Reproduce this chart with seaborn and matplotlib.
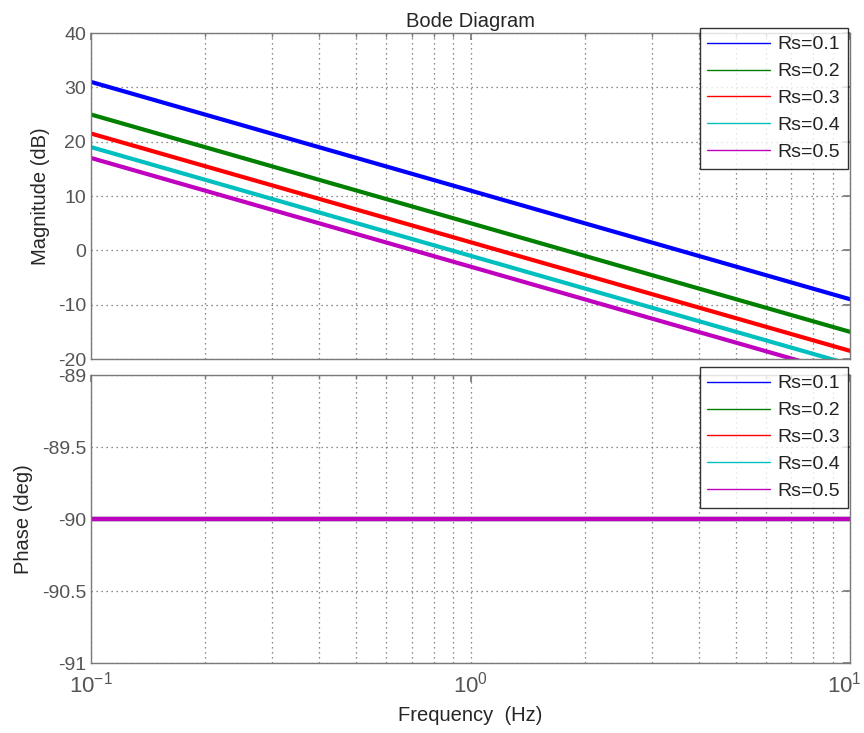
import numpy as np
import pandas as pd
import matplotlib
matplotlib.use("Agg")
import matplotlib.pyplot as plt
import seaborn as sns
from matplotlib.ticker import LogLocator, NullFormatter, FixedLocator
import matplotlib.transforms as mtransforms

sns.set_theme(style="white")
plt.rcParams['font.family'] = ['Liberation Sans', 'DejaVu Sans']
plt.rcParams['mathtext.fontset'] = 'custom'
plt.rcParams['mathtext.rm'] = 'Liberation Sans'
plt.rcParams['mathtext.it'] = 'Liberation Sans'
plt.rcParams['mathtext.default'] = 'regular'

# Data
freq = [0.1, 1.0, 10.0]
series = ["Rs=0.1", "Rs=0.2", "Rs=0.3", "Rs=0.4", "Rs=0.5"]
mag_rs01 = [31.0, 11.0, -9.0]
mag_rs02 = [25.0, 5.0, -15.0]
mag_rs03 = [21.5, 1.5, -18.5]
mag_rs04 = [19.0, -1.0, -21.0]
mag_rs05 = [17.0, -3.0, -23.0]
phase_all = [-90.0, -90.0, -90.0]
colors = ["#0000ff", "#008000", "#ff0000", "#00bfbf", "#bf00bf"]
mag_ticks = [-20, -10, 0, 10, 20, 30, 40]
phase_ticks = [-91, -90.5, -90, -89.5, -89]
phase_tick_labels = ["-91", "-90.5", "-90", "-89.5", "-89"]
x_ticks = [0.1, 1, 10]
x_tick_labels = ["$10^{-1}$", "$10^{0}$", "$10^{1}$"]

mags = [mag_rs01, mag_rs02, mag_rs03, mag_rs04, mag_rs05]
rows_m, rows_p = [], []
for name, m in zip(series, mags):
    for f, v, p in zip(freq, m, phase_all):
        rows_m.append({"f": f, "val": v, "s": name})
        rows_p.append({"f": f, "val": p, "s": name})
dm = pd.DataFrame(rows_m)
dp = pd.DataFrame(rows_p)

fig = plt.figure(figsize=(8.64, 7.33), dpi=100)
ax1 = fig.add_axes([91/864, 1-359/733, (850-91)/864, (359-33)/733])
ax2 = fig.add_axes([91/864, 1-663/733, (850-91)/864, (663-375)/733])

pal = dict(zip(series, colors))
sns.lineplot(data=dm, x="f", y="val", hue="s", palette=pal, ax=ax1, linewidth=3, legend=True)
sns.lineplot(data=dp, x="f", y="val", hue="s", palette=pal, ax=ax2, linewidth=3, legend=True)

textc = "#262626"
tickc = "#555555"
legend_tops = [28, 367]
for ax, ltop in zip((ax1, ax2), legend_tops):
    ax.set_xscale("log")
    ax.set_xlim(0.1, 10)
    ax.xaxis.set_major_locator(FixedLocator(x_ticks))
    ax.xaxis.set_minor_locator(LogLocator(base=10, subs=np.arange(2, 10)))
    ax.xaxis.set_minor_formatter(NullFormatter())
    ax.grid(True, which="major", linestyle=(0, (1, 3)), color="#666666", linewidth=0.9)
    ax.grid(True, which="minor", axis="x", linestyle=(0, (1, 3)), color="#666666", linewidth=0.9)
    for sp in ax.spines.values():
        sp.set_color("#7a7a7a")
        sp.set_linewidth(1.0)
    ax.tick_params(axis="both", which="both", direction="in", top=True, right=True,
                   colors="#7a7a7a", labelcolor=tickc, labelsize=14)
    ax.tick_params(which="major", length=5)
    ax.tick_params(which="minor", length=3)
    ax.set_xlabel("")
    leg = ax.legend(loc="upper right", fontsize=14, frameon=True, fancybox=False,
                    edgecolor="black", handlelength=3.2, borderaxespad=0.0,
                    bbox_to_anchor=(848/864, 1-ltop/733), bbox_transform=fig.transFigure,
                    labelspacing=0.48, borderpad=0.4, handletextpad=0.4)
    leg.get_frame().set_linewidth(1.0)
    leg.set_zorder(10)
    for h in leg.get_lines():
        h.set_linewidth(1.0)
    for t in leg.get_texts():
        t.set_color("#222222")

ax1.set_ylim(-20, 40)
ax1.set_yticks(mag_ticks)
ax1.set_yticklabels([str(v) for v in mag_ticks])
ax1.set_xticklabels([])
ax1.set_ylabel("Magnitude (dB)", color=textc, fontsize=14.5, labelpad=6)
ax1.set_title("Bode Diagram", color=textc, fontsize=14.5, pad=4)

ax2.set_ylim(-91, -89)
ax2.set_yticks(phase_ticks)
ax2.set_yticklabels(phase_tick_labels)
ax2.set_xticklabels(x_tick_labels)
ax2.tick_params(axis="x", labelsize=16, pad=6)
ax2.set_ylabel("Phase (deg)", color=textc, fontsize=14.5, labelpad=6)
ax2.set_xlabel("Frequency  (Hz)", color=textc, fontsize=14.5, labelpad=6)

lbls = ax2.get_xticklabels()
lbls[-1].set_transform(lbls[-1].get_transform() + mtransforms.ScaledTranslation(-6/100, 0, fig.dpi_scale_trans))

fig.savefig("out.png", dpi=100)
